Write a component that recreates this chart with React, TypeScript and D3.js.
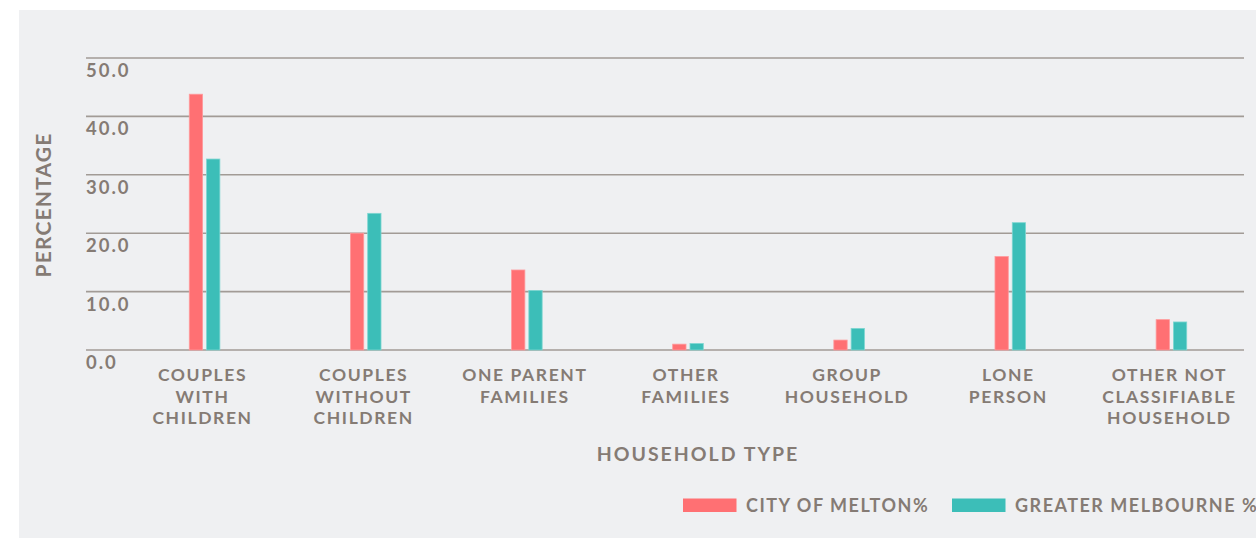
import React from "react";
import * as d3 from "d3";

const categories: string[][] = [
  ["COUPLES", "WITH", "CHILDREN"],
  ["COUPLES", "WITHOUT", "CHILDREN"],
  ["ONE PARENT", "FAMILIES"],
  ["OTHER", "FAMILIES"],
  ["GROUP", "HOUSEHOLD"],
  ["LONE", "PERSON"],
  ["OTHER NOT", "CLASSIFIABLE", "HOUSEHOLD"],
];
const categoryKeys = categories.map((c) => c.join(" "));
const seriesNames = ["CITY OF MELTON%", "GREATER MELBOURNE %"];
const meltonValues = [43.8, 20.0, 13.7, 1.0, 1.7, 16.0, 5.2];
const melbourneValues = [32.7, 23.4, 10.2, 1.1, 3.7, 21.8, 4.8];
const yTicks = [0, 10, 20, 30, 40, 50];
const xTitle = "HOUSEHOLD TYPE";
const yTitle = "PERCENTAGE";

const W = 1256;
const H = 538;
const COLORS = ["#FF7073", "#3CBEB8"];
const STROKES = ["#FF9A9C", "#7ED6D1"];
const TEXT = "#857B74";
const GRID = "#A29B96";
const BG = "#EFF0F2";
const FONT = "Lato, 'Open Sans', sans-serif";

export default function App() {
  const x = d3.scaleBand<string>().domain(categoryKeys).range([124, 1252]).padding(0);
  const inner = d3.scaleBand<string>().domain(seriesNames).range([-15.3, 15.3]).paddingInner(0.23);
  const y = d3.scaleLinear().domain([0, 50]).range([350, 58]);
  const fmt = d3.format(".1f");
  const series = [meltonValues, melbourneValues];

  return (
    <svg
      width={W}
      height={H}
      style={{ position: "absolute", left: 0, top: 0, display: "block" }}
      fontFamily={FONT}
    >
      <rect x={0} y={0} width={W} height={H} fill="#FFFFFF" />
      <rect x={19} y={10} width={W - 19} height={H - 10} fill={BG} />

      {yTicks.map((t) => (
        <g key={t}>
          <line x1={86} x2={1244} y1={y(t)} y2={y(t)} stroke={GRID} strokeWidth={1.6} />
          <text
            x={86}
            y={y(t) + 19}
            fill={TEXT}
            fontSize={18.5}
            fontWeight={700}
            letterSpacing={2}
          >
            {fmt(t)}
          </text>
        </g>
      ))}

      {categoryKeys.map((k, i) => {
        const cx = (x(k) as number) + x.bandwidth() / 2;
        return (
          <g key={k}>
            {series.map((vals, s) => (
              <rect
                key={s}
                x={cx + (inner(seriesNames[s]) as number)}
                y={y(vals[i])}
                width={inner.bandwidth()}
                height={y(0) - y(vals[i])}
                fill={COLORS[s]}
                stroke={STROKES[s]}
                strokeWidth={0.8}
              />
            ))}
            <text
              x={cx - 2}
              y={381}
              fill={TEXT}
              fontSize={17.5}
              fontWeight={700}
              textAnchor="middle"
              letterSpacing={1.6}
            >
              {categories[i].map((line, j) => (
                <tspan key={j} x={cx - 2} dy={j === 0 ? 0 : 21.5}>
                  {line}
                </tspan>
              ))}
            </text>
          </g>
        );
      })}

      <text
        x={698}
        y={461}
        fill={TEXT}
        fontSize={19.5}
        fontWeight={700}
        textAnchor="middle"
        letterSpacing={2}
      >
        {xTitle}
      </text>

      <text
        transform={`translate(50.5,205) rotate(-90)`}
        fill={TEXT}
        fontSize={21}
        fontWeight={700}
        textAnchor="middle"
        letterSpacing={1.2}
      >
        {yTitle}
      </text>

      {seriesNames.map((name, s) => {
        const lx = [683, 952][s];
        return (
          <g key={name}>
            <rect x={lx} y={498.5} width={53.5} height={13.5} fill={COLORS[s]} />
            <text
              x={lx + 63}
              y={512.3}
              fill={TEXT}
              fontSize={18}
              fontWeight={700}
              letterSpacing={1.5}
            >
              {name}
            </text>
          </g>
        );
      })}
    </svg>
  );
}
